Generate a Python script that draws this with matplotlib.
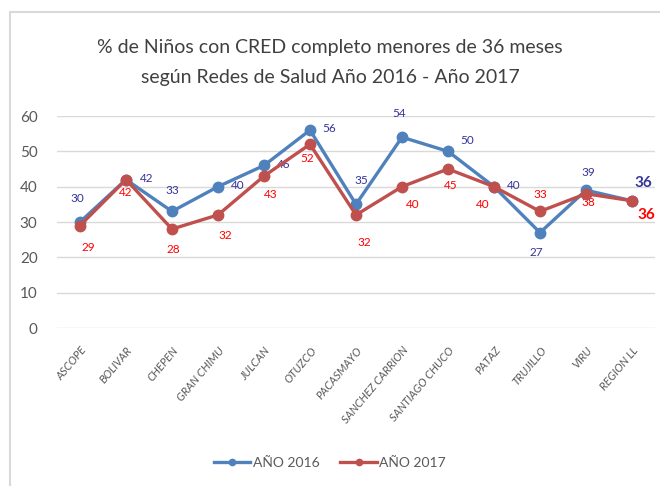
import matplotlib

matplotlib.use("Agg")
import matplotlib.pyplot as plt
from matplotlib.patches import Rectangle

plt.rcParams["font.family"] = ["Lato", "DejaVu Sans"]

redes = [
    "ASCOPE", "BOLIVAR", "CHEPEN", "GRAN CHIMU", "JULCAN", "OTUZCO", "PACASMAYO",
    "SANCHEZ CARRION", "SANTIAGO CHUCO", "PATAZ", "TRUJILLO", "VIRU", "REGION LL",
]
anio_2016 = [30, 42, 33, 40, 46, 56, 35, 54, 50, 40, 27, 39, 36]
anio_2017 = [29, 42, 28, 32, 43, 52, 32, 40, 45, 40, 33, 38, 36]

# label offsets in points (style only)
off_2016 = [(-2, 17), (15, 1), (0, 15), (14, 1), (14, 1), (14, 1), (4, 17),
            (-2, 17), (14, 8), (14, 1), (-3, -14), (2, 13), (8, 13)]
off_2017 = [(6, -16), (0, -9), (1, -15), (5, -15), (5, -13), (-2, -10), (6, -20),
            (8, -13), (2, -12), (-8, -13), (0, 12), (2, -6), (10, -10)]

blue = "#4f81bd"
red = "#c0504d"

fig = plt.figure(figsize=(6.6, 4.86), dpi=100)
fig.patch.set_facecolor("white")
fig.patches.append(
    Rectangle((10 / 660, -0.2), 1.2, 1.2 - 12 / 486,
              transform=fig.transFigure, fill=False, edgecolor="#d9d9d9", linewidth=1.5)
)
ax = fig.add_axes([57 / 660, 1 - 328 / 486, 598 / 660, 212 / 486])

x = list(range(len(redes)))
ax.plot(x, anio_2016, color=blue, linewidth=2.4, marker="o", markersize=7.5, label="AÑO 2016", zorder=3)
ax.plot(x, anio_2017, color=red, linewidth=2.4, marker="o", markersize=7.5, label="AÑO 2017", zorder=4)

for i, (v, off) in enumerate(zip(anio_2016, off_2016)):
    last = i == len(redes) - 1
    ax.annotate(str(v), (i, v), xytext=off, textcoords="offset points", ha="center", va="center",
                color="#333399", fontsize=11 if last else 8.5, fontweight="bold" if last else "normal")
for i, (v, off) in enumerate(zip(anio_2017, off_2017)):
    last = i == len(redes) - 1
    ax.annotate(str(v), (i, v), xytext=off, textcoords="offset points", ha="center", va="center",
                color="#ff0000", fontsize=11 if last else 8.5, fontweight="bold" if last else "normal")

ax.set_xlim(-0.5, len(redes) - 0.5)
ax.set_ylim(0, 60)
ax.set_yticks(range(0, 61, 10))
ax.grid(axis="y", color="#d9d9d9", linewidth=1)
ax.set_axisbelow(True)
for side in ["top", "right", "left", "bottom"]:
    ax.spines[side].set_visible(False)
ax.tick_params(axis="both", length=0, colors="#595959")
ax.tick_params(axis="y", labelsize=11, pad=14)
ax.set_xticks(x)
ax.set_xticklabels(redes, rotation=50, ha="right", rotation_mode="anchor",
                   fontsize=8, style="italic", color="#595959")
ax.tick_params(axis="x", pad=12)

fig.text(0.5, 0.903, "% de Niños con CRED completo menores de 36 meses", ha="center", va="center",
         fontsize=14, color="#404040")
fig.text(0.5, 0.84, "según Redes de Salud Año 2016 - Año 2017", ha="center", va="center",
         fontsize=14, color="#404040")

fig.legend(loc="center", bbox_to_anchor=(0.5, 1 - 463 / 486), ncol=2, frameon=False,
           fontsize=10, handlelength=2.6, columnspacing=1.5, handletextpad=0.2,
           labelcolor="#595959", markerscale=0.6)

fig.savefig("out.png", dpi=100)
